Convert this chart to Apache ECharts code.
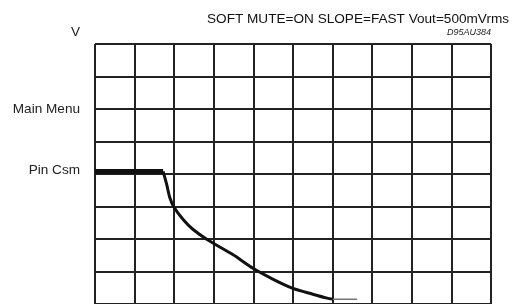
<!DOCTYPE html>
<html>
<head>
<meta charset="utf-8">
<script src="https://cdn.jsdelivr.net/npm/echarts@6/dist/echarts.min.js"></script>
<style>html,body{margin:0;padding:0;background:#fff;}#c{width:517px;height:304px;}</style>
</head>
<body>
<div id="c"></div>
<script>
var titleText = 'SOFT MUTE=ON SLOPE=FAST Vout=500mVrms';
var codeText = 'D95AU384';
var yName = 'V';
var yTickLabels = {6: 'Main Menu', 4: 'Pin Csm'};
var flatX = [0, 1.72];
var flatY = [4.08, 4.08];
var curveX = [1.72, 1.81, 1.89, 2.0, 2.22, 2.47, 2.85, 3.48, 4.0, 4.5, 5.0, 5.5, 5.86, 6.0];
var curveY = [4.08, 3.68, 3.27, 2.97, 2.61, 2.30, 1.97, 1.52, 1.09, 0.76, 0.48, 0.30, 0.18, 0.15];
var tailX = [6.0, 6.62];
var tailY = [0.15, 0.15];

function zip(a, b) { return a.map(function (v, i) { return [v, b[i]]; }); }

var chart = echarts.init(document.getElementById('c'));
var gridColor = '#222';
chart.setOption({
  animation: false,
  backgroundColor: '#fff',
  title: {
    text: titleText,
    left: 202, top: 7,
    textStyle: {fontFamily: 'Liberation Sans', fontSize: 13.6, fontWeight: 'normal', color: '#111'}
  },
  graphic: [{
    type: 'text', right: 26, top: 28,
    style: {text: codeText, fontFamily: 'Liberation Sans', fontSize: 9, fontStyle: 'italic', fill: '#222'}
  }],
  grid: {left: 95, top: 44, width: 396, height: 264},
  xAxis: {
    type: 'value', min: 0, max: 10, interval: 1,
    axisLine: {show: false}, axisTick: {show: false}, axisLabel: {show: false},
    splitLine: {show: true, lineStyle: {color: gridColor, width: 2}}
  },
  yAxis: {
    type: 'value', min: 0, max: 8, interval: 1,
    name: yName, nameLocation: 'end', nameGap: 5,
    nameTextStyle: {fontFamily: 'Liberation Sans', fontSize: 13.6, color: '#222', align: 'right', padding: [0, 15, 0, 0]},
    axisLine: {show: false}, axisTick: {show: false},
    axisLabel: {
      margin: 15, fontFamily: 'Liberation Sans', fontSize: 13.6, color: '#222',
      formatter: function (v) {
        if (v === 4) return '{p|' + yTickLabels[v] + '}';
        return yTickLabels[v] || '';
      },
      rich: {p: {fontFamily: 'Liberation Sans', fontSize: 13.6, color: '#222', padding: [0, 0, 7, 0]}}
    },
    splitLine: {show: true, lineStyle: {color: gridColor, width: 2}}
  },
  series: [
    {type: 'line', data: zip(flatX, flatY), showSymbol: false, lineStyle: {color: '#111', width: 5}, z: 5},
    {type: 'line', data: zip(curveX, curveY), showSymbol: false, smooth: 0.3, lineStyle: {color: '#111', width: 3}, z: 5},
    {type: 'line', data: zip(tailX, tailY), showSymbol: false, lineStyle: {color: '#777', width: 1.5}, z: 4}
  ]
});
</script>
</body>
</html>
